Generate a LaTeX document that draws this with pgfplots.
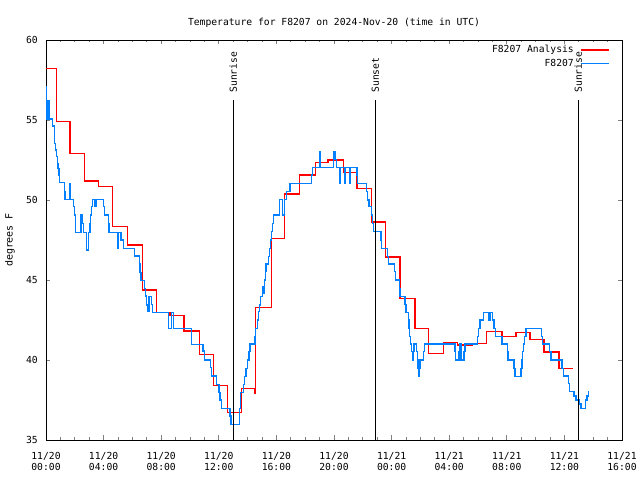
\documentclass[border=0pt]{standalone}
\usepackage{fontspec}
\setmainfont{DejaVu Sans Mono}
\usepackage{pgfplots}
\pgfplotsset{compat=1.18}
\definecolor{obsblue}{RGB}{0,128,255}
\newcommand{\gfont}{\fontsize{9.7bp}{11bp}\selectfont}

\begin{document}
\begin{tikzpicture}
\useasboundingbox (-46bp,-40bp) rectangle (594bp,440bp);
\begin{axis}[
  at={(0,0)}, anchor=south west,
  scale only axis,
  width=576bp, height=400bp,
  xmin=0, xmax=40, ymin=35, ymax=60,
  xtick={0,4,...,40},
  xticklabels={11/20\\00:00,11/20\\04:00,11/20\\08:00,11/20\\12:00,11/20\\16:00,11/20\\20:00,
               11/21\\00:00,11/21\\04:00,11/21\\08:00,11/21\\12:00,11/21\\16:00},
  ytick={35,40,...,60},
  minor x tick num=3,
  tick align=inside,
  major tick length=4.5bp,
  minor tick length=2.5bp,
  every tick/.append style={line width=0.8bp},
  axis line style={line width=0.8bp},
  /pgf/number format/assume math mode=true,
  tick label style={font=\gfont},
  xticklabel style={align=center, yshift=-9bp},
  yticklabel style={xshift=-4.7bp},
  title={Temperature for F8207 on 2024-Nov-20 (time in UTC)},
  title style={at={(0.5,1)}, anchor=center, yshift=11.5bp, inner sep=0pt, font=\gfont},
  ylabel={degrees F},
  ylabel style={font=\gfont},
  every axis y label/.style={at={(axis description cs:-0.0625,0.5)}, rotate=90, anchor=center},
  legend style={at={(1,1)}, anchor=north east, xshift=-12bp, yshift=-3bp,
    draw=none, fill=none, inner sep=0pt, row sep=0pt, column sep=5bp,
    nodes={inner sep=1.5bp, text height=8bp, text depth=2.5bp, font=\gfont}},
  legend cell align=right,
  legend plot pos=right,
  legend image code/.code={\draw[#1] (0bp,0bp) -- (28bp,0bp);},
]
% analysis (red)
\addplot[color=red, line width=1.5bp, const plot, forget plot] coordinates {
(0,58.23) (0.72,54.9) (1.67,52.9) (2.66,51.19) (3.63,50.83) (4.63,48.33)
(5.67,47.19) (6.7,44.38) (7.69,42.96) (8.61,42.79) (9.6,41.81) (10.65,40.35)
(11.62,38.42) (12.62,36.73) (13.59,38.23) (14.5,37.9) (14.56,43.29) (15.67,47.58)
(16.55,50.38) (17.59,51.56) (18.73,52.33) (19.6,52.5) (20.67,51.73) (21.58,50.73)
(22.62,48.63) (23.59,46.43) (24.6,43.85) (25.63,41.98) (26.55,40.42) (27.59,41.1)
(28.59,40.94) (29.63,41.04) (30.6,41.79) (31.65,41.48) (32.64,41.73) (33.6,41.29)
(34.6,40.5) (35.63,39.48) (36.62,39.48)
};
% observations (blue)
\addplot[color=obsblue, line width=1.5bp, const plot, forget plot] coordinates {
(0,57.1) (0.05,55.06) (0.12,56.2) (0.2,55.06) (0.44,54.63) (0.58,53.54) (0.67,53.13)
(0.74,52.71) (0.79,52.29) (0.83,51.98) (0.9,51.56) (0.95,51.08) (1.27,50.52) (1.32,50.04)
(1.62,51.04) (1.71,50.04) (1.9,49.58) (1.99,49.06) (2.04,48.54) (2.06,47.98) (2.43,49.06)
(2.55,48.54) (2.59,47.98) (2.82,46.88) (2.94,47.98) (3.06,48.54) (3.1,49.06) (3.17,49.58)
(3.24,50.04) (3.36,49.58) (3.47,50.04) (3.98,49.58) (4.07,49.06) (4.33,48.54) (4.38,47.98)
(4.95,47.0) (5.02,47.98) (5.21,47.5) (5.37,46.98) (6.13,46.5) (6.48,46.0) (6.53,45.48)
(6.58,44.98) (6.83,44.48) (6.92,44.0) (6.99,43.44) (7.1,43.02) (7.17,43.96) (7.34,43.48)
(7.38,42.96) (8.49,41.98) (8.72,42.96) (8.84,41.98) (10.12,40.98) (10.9,40.56) (10.99,40.0)
(11.44,39.52) (11.5,39.0) (11.85,38.48) (12.01,37.96) (12.1,37.5) (12.2,36.98) (12.78,36.5)
(12.83,35.98) (13.43,36.98) (13.52,37.98) (13.7,38.48) (13.77,38.96) (13.89,39.48) (14.0,40.0)
(14.1,40.52) (14.17,41.0) (14.51,41.46) (14.56,41.98) (14.68,42.5) (14.74,43.02) (14.81,43.44)
(14.91,43.96) (15.02,44.58) (15.09,44.17) (15.16,45.0) (15.23,45.52) (15.28,46.0) (15.44,46.46)
(15.51,46.98) (15.6,47.5) (15.67,48.02) (15.72,48.54) (15.79,49.06) (16.2,50.04) (16.44,49.06)
(16.55,50.04) (16.71,50.52) (16.94,51.04) (18.45,51.56) (18.52,52.04) (18.98,53.02) (19.07,52.04)
(19.95,53.02) (20.07,52.54) (20.19,52.04) (20.37,51.04) (20.42,52.04) (20.72,51.04) (20.76,52.04)
(21.06,51.04) (21.11,52.04) (21.58,51.56) (21.62,51.04) (22.27,50.52) (22.34,50.0) (22.43,49.58)
(22.62,49.06) (22.69,48.54) (22.73,48.02) (23.26,47.5) (23.31,46.98) (23.73,46.46) (23.77,46.0)
(24.19,45.52) (24.28,45.0) (24.54,44.48) (24.58,43.98) (24.93,43.48) (25.0,42.98) (25.16,42.5)
(25.2,41.98) (25.26,41.46) (25.32,41.0) (25.39,40.52) (25.44,40.0) (25.51,40.52) (25.56,41.0)
(25.74,40.52) (25.79,40.0) (25.83,39.48) (25.88,38.98) (25.93,39.48) (25.97,40.0) (26.2,40.52)
(26.27,41.0) (28.4,40.52) (28.45,40.0) (28.68,40.52) (28.73,41.0) (28.82,40.0) (29.03,40.52)
(29.1,41.0) (29.95,41.46) (30.02,41.98) (30.14,42.5) (30.37,42.98) (30.74,42.5) (30.83,42.98)
(31.02,42.5) (31.11,41.98) (31.2,41.46) (31.65,41.0) (32.06,40.52) (32.1,40.0) (32.5,39.48)
(32.57,38.98) (32.99,39.48) (33.06,40.0) (33.1,40.52) (33.15,41.0) (33.22,41.46) (33.33,41.98)
(34.42,41.46) (34.49,41.0) (34.95,40.52) (35.07,40.0) (35.85,39.48) (35.93,39.0) (36.27,38.54)
(36.34,38.02) (36.67,37.75) (36.81,37.5) (37.01,37.25) (37.15,36.98) (37.48,37.5) (37.57,37.75)
(37.66,38.02) (37.69,38.02)
};
\addlegendimage{color=red, line width=1.5bp}
\addlegendentry{F8207 Analysis}
\addlegendimage{color=obsblue, line width=1.5bp}
\addlegendentry{F8207}
% sunrise / sunset markers
\addplot[color=black, line width=0.8bp, forget plot] coordinates {(13.01,35) (13.01,56.25)};
\addplot[color=black, line width=0.8bp, forget plot] coordinates {(22.87,35) (22.87,56.25)};
\addplot[color=black, line width=0.8bp, forget plot] coordinates {(36.97,35) (36.97,56.25)};
\node[rotate=90, anchor=west, inner sep=0pt, font=\gfont] at (axis cs:13.01,56.7) {Sunrise};
\node[rotate=90, anchor=west, inner sep=0pt, font=\gfont] at (axis cs:22.87,56.7) {Sunset};
\node[rotate=90, anchor=west, inner sep=0pt, font=\gfont] at (axis cs:36.97,56.7) {Sunrise};
\end{axis}
\end{tikzpicture}
\end{document}
